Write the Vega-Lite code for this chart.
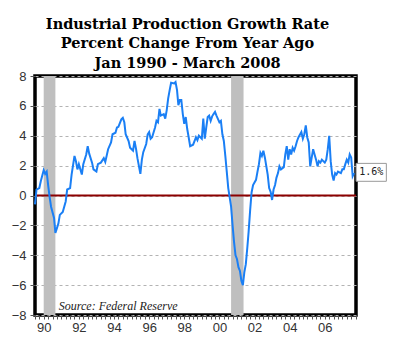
{
  "$schema": "https://vega.github.io/schema/vega-lite/v6.json",
  "width": 321,
  "height": 239,
  "autosize": {"type": "none"},
  "padding": {"left": 35, "top": 76, "right": 44, "bottom": 34},
  "background": "white",
  "title": {
    "text": ["Industrial Production Growth Rate", "Percent Change From Year Ago", "Jan 1990 - March 2008"],
    "font": "DejaVu Serif",
    "fontSize": 14.5,
    "fontWeight": "bold",
    "lineHeight": 19.5,
    "anchor": "middle",
    "dx": -8,
    "offset": -1,
    "color": "black"
  },
  "config": {
    "view": {"stroke": "black", "strokeWidth": 3.5},
    "axis": {"domain": false, "labelFont": "Liberation Sans", "labelFontSize": 13, "labelColor": "#333333", "tickColor": "#555555", "tickWidth": 1},
    "axisX": {"grid": false, "tickSize": 4, "labelPadding": 2, "labelOverlap": false, "labelFlush": false},
    "axisY": {"grid": true, "gridDash": [3, 3], "gridColor": "#b3b3b3", "gridWidth": 1, "tickSize": 5, "labelPadding": 4, "labelOverlap": false, "labelFlush": false}
  },
  "datasets": {
    "ip": [
      {"date": "1990-01-01", "value": -0.6}, {"date": "1990-02-01", "value": 0.4}, {"date": "1990-04-01", "value": 0.5}, {"date": "1990-05-01", "value": 0.95},
      {"date": "1990-07-01", "value": 1.7}, {"date": "1990-08-01", "value": 1.45}, {"date": "1990-09-01", "value": 1.6}, {"date": "1990-10-01", "value": 0.7},
      {"date": "1990-11-01", "value": -0.1}, {"date": "1990-12-01", "value": -0.75}, {"date": "1991-02-01", "value": -1.5}, {"date": "1991-03-01", "value": -2.5},
      {"date": "1991-05-01", "value": -1.9}, {"date": "1991-06-01", "value": -1.3}, {"date": "1991-08-01", "value": -1.1}, {"date": "1991-10-01", "value": -0.4},
      {"date": "1991-11-01", "value": 0.4}, {"date": "1992-01-01", "value": 0.5}, {"date": "1992-02-01", "value": 1.4}, {"date": "1992-04-01", "value": 2.65},
      {"date": "1992-05-01", "value": 2.3}, {"date": "1992-06-01", "value": 1.75}, {"date": "1992-07-01", "value": 2.1}, {"date": "1992-09-01", "value": 1.4},
      {"date": "1992-10-01", "value": 2.1}, {"date": "1992-12-01", "value": 2.75}, {"date": "1993-01-01", "value": 3.3}, {"date": "1993-02-01", "value": 2.8},
      {"date": "1993-04-01", "value": 2.2}, {"date": "1993-05-01", "value": 1.75}, {"date": "1993-07-01", "value": 1.6}, {"date": "1993-08-01", "value": 2.1},
      {"date": "1993-10-01", "value": 2.2}, {"date": "1993-12-01", "value": 2.5}, {"date": "1994-01-01", "value": 2.25}, {"date": "1994-03-01", "value": 3.1},
      {"date": "1994-05-01", "value": 3.55}, {"date": "1994-06-01", "value": 4.1}, {"date": "1994-08-01", "value": 4.2}, {"date": "1994-09-01", "value": 4.55},
      {"date": "1994-10-01", "value": 4.6}, {"date": "1994-12-01", "value": 5.1}, {"date": "1995-01-01", "value": 5.2}, {"date": "1995-02-01", "value": 4.9},
      {"date": "1995-03-01", "value": 4.1}, {"date": "1995-05-01", "value": 3.65}, {"date": "1995-06-01", "value": 3.2}, {"date": "1995-08-01", "value": 3.0},
      {"date": "1995-09-01", "value": 3.65}, {"date": "1995-10-01", "value": 3.15}, {"date": "1995-11-01", "value": 2.5}, {"date": "1996-01-01", "value": 1.45},
      {"date": "1996-02-01", "value": 2.4}, {"date": "1996-03-01", "value": 2.9}, {"date": "1996-05-01", "value": 3.45}, {"date": "1996-06-01", "value": 4.1},
      {"date": "1996-07-01", "value": 4.25}, {"date": "1996-08-01", "value": 3.8}, {"date": "1996-09-01", "value": 3.9}, {"date": "1996-11-01", "value": 4.55},
      {"date": "1996-12-01", "value": 5.0}, {"date": "1997-01-01", "value": 4.9}, {"date": "1997-02-01", "value": 5.8}, {"date": "1997-03-01", "value": 5.35},
      {"date": "1997-05-01", "value": 5.45}, {"date": "1997-06-01", "value": 5.15}, {"date": "1997-07-01", "value": 5.7}, {"date": "1997-08-01", "value": 6.5},
      {"date": "1997-09-01", "value": 7.05}, {"date": "1997-10-01", "value": 7.55}, {"date": "1997-12-01", "value": 7.5}, {"date": "1998-01-01", "value": 7.6},
      {"date": "1998-02-01", "value": 7.05}, {"date": "1998-03-01", "value": 6.05}, {"date": "1998-04-01", "value": 6.4}, {"date": "1998-05-01", "value": 6.4},
      {"date": "1998-06-01", "value": 5.45}, {"date": "1998-07-01", "value": 4.8}, {"date": "1998-08-01", "value": 5.25}, {"date": "1998-09-01", "value": 4.45},
      {"date": "1998-10-01", "value": 3.9}, {"date": "1998-11-01", "value": 3.3}, {"date": "1999-01-01", "value": 3.4}, {"date": "1999-02-01", "value": 3.65},
      {"date": "1999-03-01", "value": 3.9}, {"date": "1999-04-01", "value": 3.7}, {"date": "1999-05-01", "value": 4.0}, {"date": "1999-07-01", "value": 3.8},
      {"date": "1999-08-01", "value": 5.15}, {"date": "1999-09-01", "value": 3.8}, {"date": "1999-10-01", "value": 4.55}, {"date": "1999-11-01", "value": 5.25},
      {"date": "1999-12-01", "value": 5.35}, {"date": "2000-01-01", "value": 5.0}, {"date": "2000-02-01", "value": 5.3}, {"date": "2000-03-01", "value": 5.45},
      {"date": "2000-04-01", "value": 5.6}, {"date": "2000-05-01", "value": 5.35}, {"date": "2000-07-01", "value": 4.9}, {"date": "2000-08-01", "value": 5.0},
      {"date": "2000-09-01", "value": 4.1}, {"date": "2000-10-01", "value": 3.65}, {"date": "2000-11-01", "value": 2.65}, {"date": "2000-12-01", "value": 1.6},
      {"date": "2001-01-01", "value": 0.5}, {"date": "2001-03-01", "value": -0.75}, {"date": "2001-04-01", "value": -2.0}, {"date": "2001-05-01", "value": -3.1},
      {"date": "2001-06-01", "value": -4.0}, {"date": "2001-07-01", "value": -4.25}, {"date": "2001-08-01", "value": -4.8}, {"date": "2001-09-01", "value": -5.05},
      {"date": "2001-10-01", "value": -5.7}, {"date": "2001-11-01", "value": -6.0}, {"date": "2001-12-01", "value": -5.15}, {"date": "2002-01-01", "value": -4.6},
      {"date": "2002-02-01", "value": -3.5}, {"date": "2002-03-01", "value": -2.4}, {"date": "2002-04-01", "value": -1.0}, {"date": "2002-05-01", "value": 0.2},
      {"date": "2002-06-01", "value": 0.7}, {"date": "2002-08-01", "value": 1.05}, {"date": "2002-09-01", "value": 1.6}, {"date": "2002-10-01", "value": 2.1},
      {"date": "2002-11-01", "value": 2.85}, {"date": "2002-12-01", "value": 2.65}, {"date": "2003-01-01", "value": 3.0}, {"date": "2003-02-01", "value": 2.55},
      {"date": "2003-04-01", "value": 1.4}, {"date": "2003-05-01", "value": 0.5}, {"date": "2003-06-01", "value": 0.25}, {"date": "2003-07-01", "value": -0.3},
      {"date": "2003-08-01", "value": 0.4}, {"date": "2003-09-01", "value": 0.7}, {"date": "2003-10-01", "value": 1.2}, {"date": "2003-11-01", "value": 1.5},
      {"date": "2003-12-01", "value": 1.95}, {"date": "2004-01-01", "value": 1.75}, {"date": "2004-03-01", "value": 1.9}, {"date": "2004-04-01", "value": 2.75},
      {"date": "2004-05-01", "value": 3.3}, {"date": "2004-06-01", "value": 2.4}, {"date": "2004-07-01", "value": 3.1}, {"date": "2004-08-01", "value": 2.75},
      {"date": "2004-09-01", "value": 3.2}, {"date": "2004-10-01", "value": 3.0}, {"date": "2004-11-01", "value": 3.3}, {"date": "2004-12-01", "value": 3.65},
      {"date": "2005-01-01", "value": 3.9}, {"date": "2005-03-01", "value": 4.25}, {"date": "2005-04-01", "value": 3.8}, {"date": "2005-05-01", "value": 4.1},
      {"date": "2005-06-01", "value": 4.7}, {"date": "2005-07-01", "value": 3.9}, {"date": "2005-08-01", "value": 3.55}, {"date": "2005-09-01", "value": 1.95},
      {"date": "2005-11-01", "value": 3.1}, {"date": "2005-12-01", "value": 2.75}, {"date": "2006-01-01", "value": 2.4}, {"date": "2006-02-01", "value": 1.95},
      {"date": "2006-03-01", "value": 2.3}, {"date": "2006-04-01", "value": 2.2}, {"date": "2006-05-01", "value": 2.4}, {"date": "2006-07-01", "value": 2.2},
      {"date": "2006-08-01", "value": 2.4}, {"date": "2006-09-01", "value": 3.1}, {"date": "2006-10-01", "value": 4.0}, {"date": "2006-11-01", "value": 2.3},
      {"date": "2006-12-01", "value": 1.4}, {"date": "2007-01-01", "value": 1.0}, {"date": "2007-02-01", "value": 1.5}, {"date": "2007-03-01", "value": 1.4},
      {"date": "2007-04-01", "value": 1.6}, {"date": "2007-06-01", "value": 1.5}, {"date": "2007-07-01", "value": 1.75}, {"date": "2007-08-01", "value": 1.75},
      {"date": "2007-09-01", "value": 2.1}, {"date": "2007-10-01", "value": 2.4}, {"date": "2007-11-01", "value": 2.2}, {"date": "2007-12-01", "value": 2.75},
      {"date": "2008-01-01", "value": 2.55}, {"date": "2008-02-01", "value": 1.3}, {"date": "2008-03-01", "value": 1.5}
    ],
    "rec": [
      {"start": "1990-07-01", "end": "1991-03-01"},
      {"start": "2001-03-01", "end": "2001-11-15"}
    ],
    "lbl": [
      {"date": "2009-02-20", "value": 1.55, "label": "1.6%"}
    ],
    "src": [
      {"label": "Source: Federal Reserve"}
    ]
  },
  "layer": [
    {
      "data": {"name": "rec"},
      "mark": {"type": "rect", "color": "#bfbfbf"},
      "encoding": {
        "x": {
          "field": "start", "type": "temporal", "title": null,
          "scale": {"type": "utc", "domain": [{"year": 1990, "month": 1, "date": 1, "utc": true}, {"year": 2008, "month": 4, "date": 10, "utc": true}]},
          "axis": {
            "tickCount": {"interval": "month", "step": 3},
            "labelExpr": "utcmonth(datum.value) == 6 && utcyear(datum.value) % 2 == 0 ? utcFormat(datum.value, '%y') : ''"
          }
        },
        "x2": {"field": "end"},
        "y": {
          "datum": 8, "type": "quantitative", "title": null,
          "scale": {"domain": [-8, 8], "nice": false, "zero": false},
          "axis": {"values": [-8, -6, -4, -2, 0, 2, 4, 6, 8]}
        },
        "y2": {"datum": -8}
      }
    },
    {
      "data": {"values": [{}]},
      "mark": {"type": "rule", "color": "#8b0000", "strokeWidth": 2},
      "encoding": {"y": {"datum": 0, "type": "quantitative", "title": null, "axis": {"values": [-8, -6, -4, -2, 0, 2, 4, 6, 8]}}}
    },
    {
      "data": {"name": "ip"},
      "mark": {"type": "line", "color": "#1a7ff5", "strokeWidth": 2},
      "encoding": {
        "x": {
          "field": "date", "type": "temporal", "title": null,
          "axis": {
            "tickCount": {"interval": "month", "step": 3},
            "labelExpr": "utcmonth(datum.value) == 6 && utcyear(datum.value) % 2 == 0 ? utcFormat(datum.value, '%y') : ''"
          }
        },
        "y": {
          "field": "value", "type": "quantitative", "title": null,
          "axis": {"values": [-8, -6, -4, -2, 0, 2, 4, 6, 8]}
        }
      }
    },
    {
      "data": {"values": [{}]},
      "mark": {"type": "rect", "fill": "white", "stroke": "#999999", "strokeWidth": 1, "clip": false},
      "encoding": {
        "x": {"datum": {"year": 2008, "month": 4, "date": 12, "utc": true}, "type": "temporal"},
        "x2": {"datum": {"year": 2010, "month": 1, "date": 1, "utc": true}},
        "y": {"datum": 2.15, "type": "quantitative", "axis": {"values": [-8, -6, -4, -2, 0, 2, 4, 6, 8]}},
        "y2": {"datum": 0.95}
      }
    },
    {
      "data": {"name": "lbl"},
      "mark": {"type": "text", "font": "DejaVu Sans Mono", "fontSize": 10, "color": "#222222", "align": "center", "baseline": "middle", "clip": false},
      "encoding": {
        "x": {"field": "date", "type": "temporal"},
        "y": {"field": "value", "type": "quantitative", "axis": {"values": [-8, -6, -4, -2, 0, 2, 4, 6, 8]}},
        "text": {"field": "label"}
      }
    },
    {
      "data": {"name": "src"},
      "mark": {"type": "text", "font": "Liberation Serif", "fontStyle": "italic", "fontSize": 12, "color": "#222222", "align": "left", "baseline": "middle"},
      "encoding": {
        "x": {"datum": {"year": 1991, "month": 5, "date": 10, "utc": true}, "type": "temporal"},
        "y": {"datum": -7.4, "type": "quantitative", "axis": {"values": [-8, -6, -4, -2, 0, 2, 4, 6, 8]}},
        "text": {"field": "label"}
      }
    }
  ]
}
